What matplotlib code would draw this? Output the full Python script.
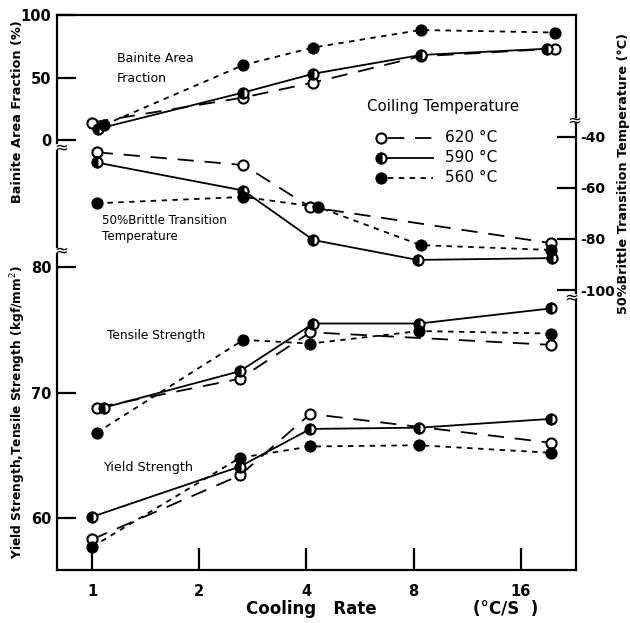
import matplotlib
matplotlib.use('Agg')
import matplotlib.pyplot as plt

plt.rcParams['font.family'] = ['DejaVu Sans']
plt.rcParams['axes.unicode_minus'] = False

W, H = 630, 623

coil_temps = [620, 590, 560]
coil_labels = ['620 °C', '590 °C', '560 °C']

# bainite area fraction (%)
bainite_rate = {620: [1.00, 2.66, 4.18, 8.37, 19.9],
                590: [1.04, 2.66, 4.18, 8.37, 18.9],
                560: [1.08, 2.66, 4.18, 8.37, 19.9]}
bainite_val = {620: [14, 34, 46, 67, 73],
               590: [9, 38, 53, 68, 73],
               560: [12, 60, 74, 88, 86]}

# 50% brittle transition temperature (degC)
btt_rate = {620: [1.03, 2.66, 4.10, 19.4],
            590: [1.03, 2.66, 4.18, 8.2, 19.6],
            560: [1.03, 2.66, 4.32, 8.37, 19.4]}
btt_val = {620: [-46, -51, -67.5, -81.6],
           590: [-50, -61, -80.4, -88.2, -87.5],
           560: [-66, -63.5, -67.5, -82.4, -84.3]}

# tensile strength (kgf/mm2)
ts_rate = {620: [1.03, 2.6, 4.10, 19.4],
           590: [1.08, 2.6, 4.18, 8.3, 19.4],
           560: [1.03, 2.66, 4.10, 8.3, 19.4]}
ts_val = {620: [68.8, 71.1, 74.8, 73.8],
          590: [68.8, 71.7, 75.5, 75.5, 76.7],
          560: [66.8, 74.2, 73.9, 74.9, 74.7]}

# yield strength (kgf/mm2)
ys_rate = {620: [1.0, 2.6, 4.1, 19.4],
           590: [1.0, 2.6, 4.1, 8.3, 19.4],
           560: [1.0, 2.6, 4.1, 8.3, 19.4]}
ys_val = {620: [58.3, 63.4, 68.3, 66.0],
          590: [60.1, 64.1, 67.1, 67.2, 67.9],
          560: [57.7, 64.8, 65.7, 65.8, 65.2]}

rate_ticks = [1, 2, 4, 8, 16]

styles = {
    620: dict(linestyle=(0, (9, 6)), marker='o', markerfacecolor='white'),
    590: dict(linestyle='-', marker='o', fillstyle='left',
              markerfacecolor='black', markerfacecoloralt='white'),
    560: dict(linestyle=(0, (3, 3)), marker='o', markerfacecolor='black'),
}
MS = 7.3


def fx(px):
    return px / W


def fy(py):
    return 1 - py / H


def draw_series(ax, rates, vals):
    for t in coil_temps:
        ax.plot(rates[t], vals[t], color='black', lw=1.3, markersize=MS,
                markeredgewidth=1.5, markeredgecolor='black', clip_on=False,
                **styles[t])


fig = plt.figure(figsize=(W / 100, H / 100), dpi=100)
pos = [fx(57), fy(570), fx(576) - fx(57), fy(15) - fy(570)]

ax = fig.add_axes(pos)      # strength, main frame
axb = fig.add_axes(pos, sharex=ax)   # bainite
axt = fig.add_axes(pos, sharex=ax)   # transition temperature

ax.set_xscale('log', base=2)
ax.set_xlim(0.797, 22.85)
ax.set_xticks(rate_ticks)
ax.set_xticklabels([str(r) for r in rate_ticks])
ax.xaxis.set_minor_locator(matplotlib.ticker.NullLocator())

ax.set_ylim(55.86, 100.08)
ax.set_yticks([60, 70, 80])
axb.set_ylim(-344, 100)
axb.set_yticks([0, 50, 100])
axt.set_ylim(-209.8, 7.84)
axt.set_yticks([-40, -60, -80, -100])

for a in (axb, axt):
    a.patch.set_visible(False)
    for s in a.spines.values():
        s.set_visible(False)
    a.tick_params(axis='x', which='both', bottom=False, labelbottom=False)

for side in ('left', 'right'):
    ax.spines[side].set_visible(False)
for side in ('top', 'bottom'):
    ax.spines[side].set_linewidth(1.6)

tick_kw = dict(direction='in', width=1.6)
ax.tick_params(axis='x', length=16, pad=10, labelsize=10.5, **tick_kw)
ax.tick_params(axis='y', length=14, pad=4, labelsize=10.5, **tick_kw)
axb.tick_params(axis='y', length=14, pad=4, labelsize=10.5, **tick_kw)
axt.tick_params(axis='y', length=14, pad=3, labelsize=10, left=False,
                labelleft=False, right=True, labelright=True, **tick_kw)
for a in (ax, axb, axt):
    for lab in a.get_xticklabels() + a.get_yticklabels():
        lab.set_fontweight('bold')

# broken side spines
for y0, y1 in [(0.0, 0.569), (0.582, 0.755), (0.769, 1.0)]:
    ax.plot([0, 0], [y0, y1], color='black', lw=1.6,
            transform=ax.transAxes, clip_on=False)
for y0, y1 in [(0.0, 0.486), (0.499, 0.805), (0.816, 1.0)]:
    ax.plot([1, 1], [y0, y1], color='black', lw=1.6,
            transform=ax.transAxes, clip_on=False)
for px, py in [(61, 147), (61, 250), (574, 120), (571, 297)]:
    fig.text(fx(px), fy(py), '≈', fontsize=12, ha='center', va='center')

draw_series(axb, bainite_rate, bainite_val)
draw_series(axt, btt_rate, btt_val)
draw_series(ax, ts_rate, ts_val)
draw_series(ax, ys_rate, ys_val)

# annotations
fig.text(fx(117), fy(58), 'Bainite Area', fontsize=9, va='center')
fig.text(fx(117), fy(79), 'Fraction', fontsize=9, va='center')
fig.text(fx(102), fy(220), '50%Brittle Transition', fontsize=8.6, va='center')
fig.text(fx(102), fy(237), 'Temperature', fontsize=8.6, va='center')
fig.text(fx(107), fy(335), 'Tensile Strength', fontsize=8.8, va='center')
fig.text(fx(103), fy(467), 'Yield Strength', fontsize=9.2, va='center')

# legend drawn by hand
fig.text(fx(367), fy(107), 'Coiling Temperature', fontsize=10.8, va='center')
for i, t in enumerate(coil_temps):
    yy = fy(138 + 20 * i)
    st = styles[t]
    fig.add_artist(matplotlib.lines.Line2D([fx(388), fx(433)], [yy, yy],
                   color='black', lw=1.3, linestyle=st['linestyle']))
    mk = {k: v for k, v in st.items() if k != 'linestyle'}
    fig.add_artist(matplotlib.lines.Line2D([fx(381)], [yy], color='black',
                   markersize=MS, markeredgewidth=1.5, markeredgecolor='black',
                   linestyle='none', **mk))
    fig.text(fx(445), yy, coil_labels[i], fontsize=11, va='center')

# axis titles
fig.text(fx(18), fy(112), 'Bainite Area Fraction (%)', rotation=90,
         fontsize=9.3, fontweight='bold', ha='center', va='center')
fig.text(fx(18), fy(412), 'Yield Strength,Tensile Strength (kgf/mm$^2$)',
         rotation=90, fontsize=8.8, fontweight='bold', ha='center', va='center')
fig.text(fx(623), fy(173), '50%Brittle Transition Temperature (°C)',
         rotation=90, fontsize=9.2, fontweight='bold', ha='center', va='center')
fig.text(fx(311), fy(609), 'Cooling   Rate', fontsize=12, fontweight='bold',
         ha='center', va='center')
fig.text(fx(506), fy(609), '(°C/S  )', fontsize=12, fontweight='bold',
         ha='center', va='center')

plt.savefig('out.png', dpi=100)
plt.close(fig)
